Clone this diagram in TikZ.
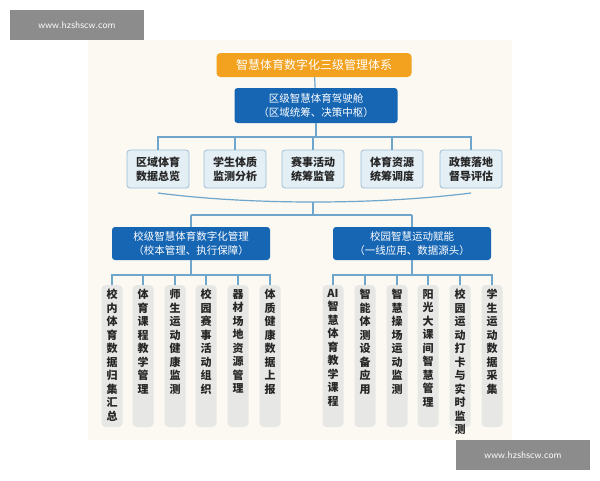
\documentclass[tikz,border=0pt]{standalone}
\usepackage{fontspec}
\newfontfamily\cjk{Noto Sans CJK SC}
\begin{document}
\begin{tikzpicture}[x=1pt,y=-1pt,font=\cjk,
 ln/.style={draw=lnc,line width=1.2pt},
 topbox/.style={draw=none,fill=orng,rounded corners=4pt,text=white,minimum width=195pt,minimum height=24pt,font=\cjk\fontsize{12}{14}\selectfont},
 bluebox/.style={fill=dblue,rounded corners=3pt,text=white,align=center,font=\cjk\fontsize{10.5}{14}\selectfont},
 lbox/.style={draw=lbord,line width=0.8pt,fill=lfill,rounded corners=3pt,minimum width=62pt,minimum height=38pt,align=center,font=\cjk\bfseries\fontsize{11}{14}\selectfont,text=black!85},
 colbg/.style={fill=gfill,rounded corners=4pt},
 col/.style={anchor=north,align=center,inner sep=1pt,font=\cjk\bfseries\fontsize{11}{13.5}\selectfont,text=black!85}]
\definecolor{orng}{HTML}{F2A21E}
\definecolor{dblue}{HTML}{1666B4}
\definecolor{lnc}{HTML}{6EA6CC}
\definecolor{lbord}{HTML}{9DBFD8}
\definecolor{lfill}{HTML}{E4EEF5}
\definecolor{gfill}{HTML}{E7E7E5}
\definecolor{bgc}{HTML}{FBF9F1}
\useasboundingbox (0,0) rectangle (600,480);
\fill[white] (0,0) rectangle (600,480);
\fill[bgc] (88,40) rectangle (512,440);
% nodes
\node[topbox] (t) at (314,65) {智慧体育数字化三级管理体系};
\node[bluebox,minimum width=163pt,minimum height=35pt] (d) at (316,105.5) {区级智慧体育驾驶舱\\（区域统筹、决策中枢）};
\foreach \n/\x/\s in {a/158/区域体育\\数据总览,b/235/学生体质\\监测分析,c/313/赛事活动\\统筹监管,e/392/体育资源\\统筹调度,f/471/政策落地\\督导评估}
  \node[lbox] (\n) at (\x,169) {\s};
\node[bluebox,minimum width=158pt,minimum height=33pt] (L) at (191,243.5) {校级智慧体育数字化管理\\（校本管理、执行保障）};
\node[bluebox,minimum width=158pt,minimum height=33pt] (R) at (412,243.5) {校园智慧运动赋能\\（一线应用、数据源头）};
\foreach \n/\x/\s in {l1/112/校\\内\\体\\育\\数\\据\\归\\集\\汇\\总,l2/143/体\\育\\课\\程\\教\\学\\管\\理,l3/175/师\\生\\运\\动\\健\\康\\监\\测,l4/206/校\\园\\赛\\事\\活\\动\\组\\织,l5/238/器\\材\\场\\地\\资\\源\\管\\理,l6/270/体\\质\\健\\康\\数\\据\\上\\报,
  r1/333/AI\\智\\慧\\体\\育\\教\\学\\课\\程,r2/365/智\\能\\体\\测\\设\\备\\应\\用,r3/397/智\\慧\\操\\场\\运\\动\\监\\测,r4/428/阳\\光\\大\\课\\间\\智\\慧\\管\\理,r5/460/校\\园\\运\\动\\打\\卡\\与\\实\\时\\监\\测,r6/492/学\\生\\运\\动\\数\\据\\采\\集}
{
  \fill[colbg] (\x-10.5,285) rectangle (\x+10.5,427);
  \coordinate (\n) at (\x,285);
  \node[col] (\n-t) at (\x,288) {\s};
}
% connectors
\coordinate (h1) at (316,137);
\draw[ln] (t) -- (d);
\draw[ln] (d.south) -- (h1);
\draw[ln] (a.north) |- (h1) -| (f.north);
\foreach \n in {b,c,e} \draw[ln] (\n.north) -- (\n.north |- h1);
\draw[ln] (158,193) .. controls (250,205) and (376,205) .. (471,193);
\coordinate (m) at (313,202);
\coordinate (h2) at (313,215);
\draw[ln] (m) -- (h2);
\draw[ln] (L.north |- h2) -- (R.north |- h2);
\draw[ln] (L.north |- h2) -- (L.north);
\draw[ln] (R.north |- h2) -- (R.north);
\coordinate (h3) at (191,275);
\coordinate (h4) at (412,275);
\draw[ln] (L.south) -- (h3);
\draw[ln] (R.south) -- (h4);
\draw[ln] (l1) |- (h3) -| (l6);
\draw[ln] (r1) |- (h4) -| (r6);
\foreach \n in {l2,l3,l4,l5} \draw[ln] (\n) -- (\n |- h3);
\foreach \n in {r2,r3,r4,r5} \draw[ln] (\n) -- (\n |- h4);
% watermarks
\fill[black!45] (10,10) rectangle (144,40);
\node[text=white,font=\sffamily\fontsize{10}{12}\selectfont] at (77,25) {www.hzshscw.com};
\fill[black!45] (456,440) rectangle (590,470);
\node[text=white,font=\sffamily\fontsize{10}{12}\selectfont] at (523,455) {www.hzshscw.com};
\end{tikzpicture}
\end{document}
